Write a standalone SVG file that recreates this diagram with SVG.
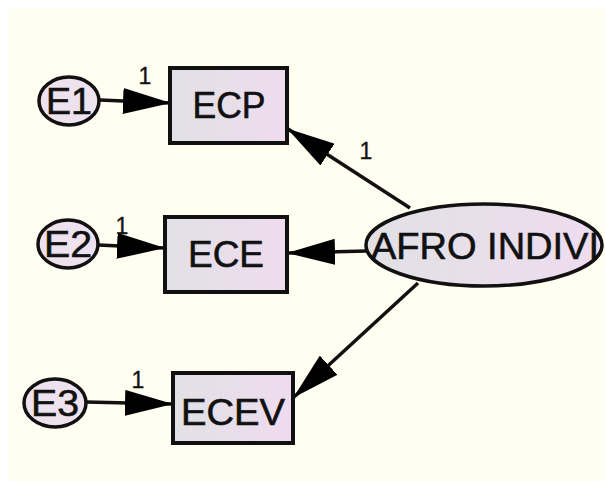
<svg xmlns="http://www.w3.org/2000/svg" width="605" height="481" viewBox="0 0 605 481">
  <defs>
    <linearGradient id="fillGrad" x1="0" y1="0" x2="1" y2="0">
      <stop offset="0" stop-color="#E1E1E5"/>
      <stop offset="1" stop-color="#EFDCEF"/>
    </linearGradient>
    <marker id="head" viewBox="0 0 48 26" refX="47" refY="13" markerWidth="48" markerHeight="26" markerUnits="userSpaceOnUse" orient="auto">
      <path d="M0,0 L48,13 L0,26 Z" fill="#000"/>
    </marker>
    <style>
      .obs { fill: url(#fillGrad); stroke: #111; stroke-width: 4; }
      .lat { fill: url(#fillGrad); stroke: #111; stroke-width: 3.5; }
      .err { fill: #EEE2EE; stroke: #111; stroke-width: 3.5; }
      .lbl { font-family: "Liberation Sans", Arial, sans-serif; fill: #111; stroke: #111; stroke-width: 0.6; text-anchor: middle; }
      .big { font-size: 37px; }
      .num { font-size: 23px; stroke-width: 0.3; }
      .edge { stroke: #111; stroke-width: 3.5; fill: none; marker-end: url(#head); }
    </style>
  </defs>

  <!-- canvas -->
  <rect x="0" y="0" width="605" height="481" fill="#FFFFFF"/>
  <rect x="8" y="8" width="597" height="473" fill="#FFFEF1"/>

  <!-- connectors -->
  <g id="connectors">
    <line class="edge" x1="100" y1="100" x2="170" y2="103"/>
    <line class="edge" x1="98" y1="245" x2="164" y2="248"/>
    <line class="edge" x1="86" y1="402" x2="172" y2="404"/>
    <line class="edge" x1="410" y1="208" x2="288" y2="129"/>
    <line class="edge" x1="366" y1="251" x2="288" y2="253"/>
    <line class="edge" x1="418" y1="283" x2="294" y2="397"/>
    <text class="lbl num" x="145" y="84">1</text>
    <text class="lbl num" x="122" y="234">1</text>
    <text class="lbl num" x="138" y="388">1</text>
    <text class="lbl num" x="366" y="159">1</text>
  </g>

  <!-- error terms -->
  <g id="E1">
    <ellipse class="err" cx="69" cy="101" rx="30" ry="24"/>
    <text class="lbl big" x="69" y="114" textLength="46" lengthAdjust="spacingAndGlyphs">E1</text>
  </g>
  <g id="E2">
    <ellipse class="err" cx="68" cy="244" rx="30" ry="24"/>
    <text class="lbl big" x="68" y="257" textLength="48" lengthAdjust="spacingAndGlyphs">E2</text>
  </g>
  <g id="E3">
    <ellipse class="err" cx="55" cy="403" rx="31" ry="24"/>
    <text class="lbl big" x="55" y="416" textLength="48" lengthAdjust="spacingAndGlyphs">E3</text>
  </g>

  <!-- observed variables -->
  <g id="ECP">
    <rect class="obs" x="170" y="68" width="117" height="75"/>
    <text class="lbl big" x="229" y="118" textLength="73" lengthAdjust="spacingAndGlyphs">ECP</text>
  </g>
  <g id="ECE">
    <rect class="obs" x="165" y="217" width="122" height="75"/>
    <text class="lbl big" x="226" y="267" textLength="76" lengthAdjust="spacingAndGlyphs">ECE</text>
  </g>
  <g id="ECEV">
    <rect class="obs" x="173" y="373" width="120" height="70"/>
    <text class="lbl big" x="233" y="425" textLength="104" lengthAdjust="spacingAndGlyphs">ECEV</text>
  </g>

  <!-- latent variable -->
  <g id="AFRO_INDIVI">
    <ellipse class="lat" cx="484" cy="245" rx="118" ry="41"/>
    <text class="lbl big" x="485" y="259" textLength="228" lengthAdjust="spacingAndGlyphs">AFRO INDIVI</text>
  </g>
</svg>
